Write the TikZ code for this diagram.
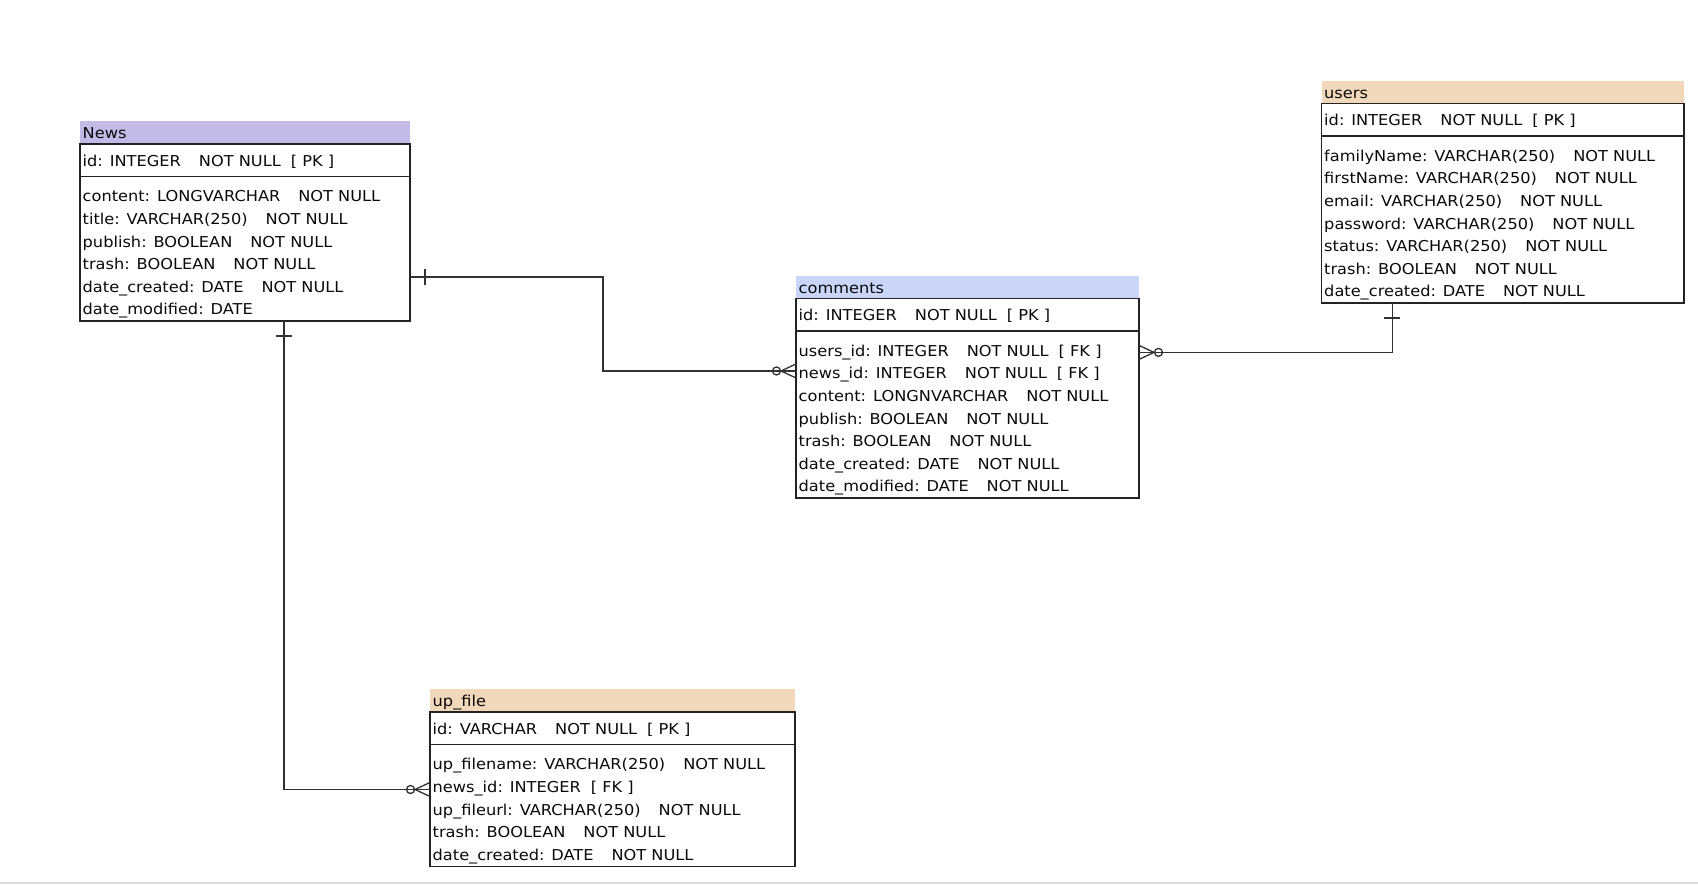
\documentclass[tikz,border=0pt]{standalone}
\usepackage{fontspec}
\setmainfont{DejaVu Sans}[FakeStretch=1.08]
\usetikzlibrary{calc}

\definecolor{newshead}{RGB}{196,186,232}
\definecolor{commhead}{RGB}{201,214,250}
\definecolor{peachhead}{RGB}{241,216,186}
\definecolor{edge}{RGB}{35,35,35}
\definecolor{wire}{RGB}{50,50,50}
\definecolor{bandgray}{RGB}{220,220,220}
\definecolor{ink}{RGB}{10,10,10}

\tikzset{
  tablebox/.style={draw=edge, line width=1.3pt, rectangle, inner sep=0pt,
                   outer sep=0pt, anchor=north west},
  rowtext/.style={anchor=base west, inner sep=0pt, text=ink,
                  font=\fontsize{15}{18}\selectfont},
  rule/.style={draw=edge, line width=1.3pt},
  link/.style={draw=wire, line width=1.3pt},
}

% wide and narrow column gaps inside a row
\newcommand\gA{\hspace{18pt}}
\newcommand\gB{\hspace{10pt}}

% #1 name, #2 left x, #3 header top y, #4 width, #5 header colour,
% #6 title, #7 key row, #8 number of field rows
\newcommand\ertable[8]{%
  \fill[#5] (#2,#3) rectangle ++(#4,23);
  \node[rowtext] (#1-title) at (#2+2.5,#3+17.5) {#6};
  \node[tablebox, minimum width=#4pt,
        minimum height={(41.4+22.6*#8)*1pt}] (#1) at (#2,#3+23) {};
  \draw[rule] (#1.north west) ++(0,32.5) -- ++(#4,0);
  \node[rowtext] (#1-pk) at ($(#1.north west)+(2.5,22)$) {#7};
}
% field rows below the key row
\newcommand\erfields[2]{%
  \foreach \f [count=\i] in {#2} {
    \node[rowtext] (#1-f\i) at ($(#1.north west)+(2.5,57.8+22.6*\i-22.6)$) {\f};
  }
}
% cardinality marks
\newcommand\crowfoot[2]{% #1 point on the table edge, #2 outward direction (+1/-1)
  \draw[link] ($(#1)+(0,-7)$) -- ($(#1)+(#2*15,0)$) -- ($(#1)+(0,7)$);
  \draw[link] ($(#1)+(#2*19.5,0)$) circle[radius=4];
}
\newcommand\vbarmark[1]{\draw[link] ($(#1)+(15,-8)$) -- ++(0,16);}
\newcommand\hbarmark[1]{\draw[link] ($(#1)+(-8,15)$) -- ++(16,0);}

\begin{document}
\begin{tikzpicture}[x=1pt,y=-1pt]
\useasboundingbox (0,0) rectangle (1698,884);
\fill[white] (0,0) rectangle (1698,884);
\fill[bandgray] (0,882) rectangle (1698,884);

% tables
\ertable{news}{80}{121}{330}{newshead}{News}{id: INTEGER\gA NOT NULL\gB[ PK ]}{6}
\erfields{news}{content: LONGVARCHAR\gA NOT NULL,
  title: VARCHAR(250)\gA NOT NULL,
  publish: BOOLEAN\gA NOT NULL,
  trash: BOOLEAN\gA NOT NULL,
  date\_created: DATE\gA NOT NULL,
  date\_modified: DATE}

\ertable{comments}{796}{275.5}{343}{commhead}{comments}{id: INTEGER\gA NOT NULL\gB[ PK ]}{7}
\erfields{comments}{users\_id: INTEGER\gA NOT NULL\gB[ FK ],
  news\_id: INTEGER\gA NOT NULL\gB[ FK ],
  content: LONGNVARCHAR\gA NOT NULL,
  publish: BOOLEAN\gA NOT NULL,
  trash: BOOLEAN\gA NOT NULL,
  date\_created: DATE\gA NOT NULL,
  date\_modified: DATE\gA NOT NULL}

\ertable{users}{1321.5}{80.5}{362.5}{peachhead}{users}{id: INTEGER\gA NOT NULL\gB[ PK ]}{7}
\erfields{users}{familyName: VARCHAR(250)\gA NOT NULL,
  firstName: VARCHAR(250)\gA NOT NULL,
  email: VARCHAR(250)\gA NOT NULL,
  password: VARCHAR(250)\gA NOT NULL,
  status: VARCHAR(250)\gA NOT NULL,
  trash: BOOLEAN\gA NOT NULL,
  date\_created: DATE\gA NOT NULL}

\ertable{upfile}{430}{689}{365}{peachhead}{up\_file}{id: VARCHAR\gA NOT NULL\gB[ PK ]}{5}
\erfields{upfile}{up\_filename: VARCHAR(250)\gA NOT NULL,
  news\_id: INTEGER\gB[ FK ],
  up\_fileurl: VARCHAR(250)\gA NOT NULL,
  trash: BOOLEAN\gA NOT NULL,
  date\_created: DATE\gA NOT NULL}

% connector end points
\coordinate (newsout)   at ([yshift=-44.5pt]news.east);
\coordinate (commin)    at ($(comments.west |- comments-f2.west)+(0,-4)$);
\coordinate (newsdown)  at ([xshift=39pt]news.south);
\coordinate (upin)      at ($(upfile.west |- upfile-f2.west)+(0,1)$);
\coordinate (usersdown) at ([xshift=-110.5pt]users.south);
\coordinate (commout)   at (comments.east |- comments-f1.west);

% relationships
\draw[link] (newsout) -| ($(newsout)!.5!(commin)$) |- (commin);
\draw[link] (newsdown) |- (upin);
\draw[link] (usersdown) |- (commout);

\vbarmark{newsout}
\hbarmark{newsdown}
\hbarmark{usersdown}
\crowfoot{commin}{-1}
\crowfoot{commout}{1}
\crowfoot{upin}{-1}
\end{tikzpicture}
\end{document}
